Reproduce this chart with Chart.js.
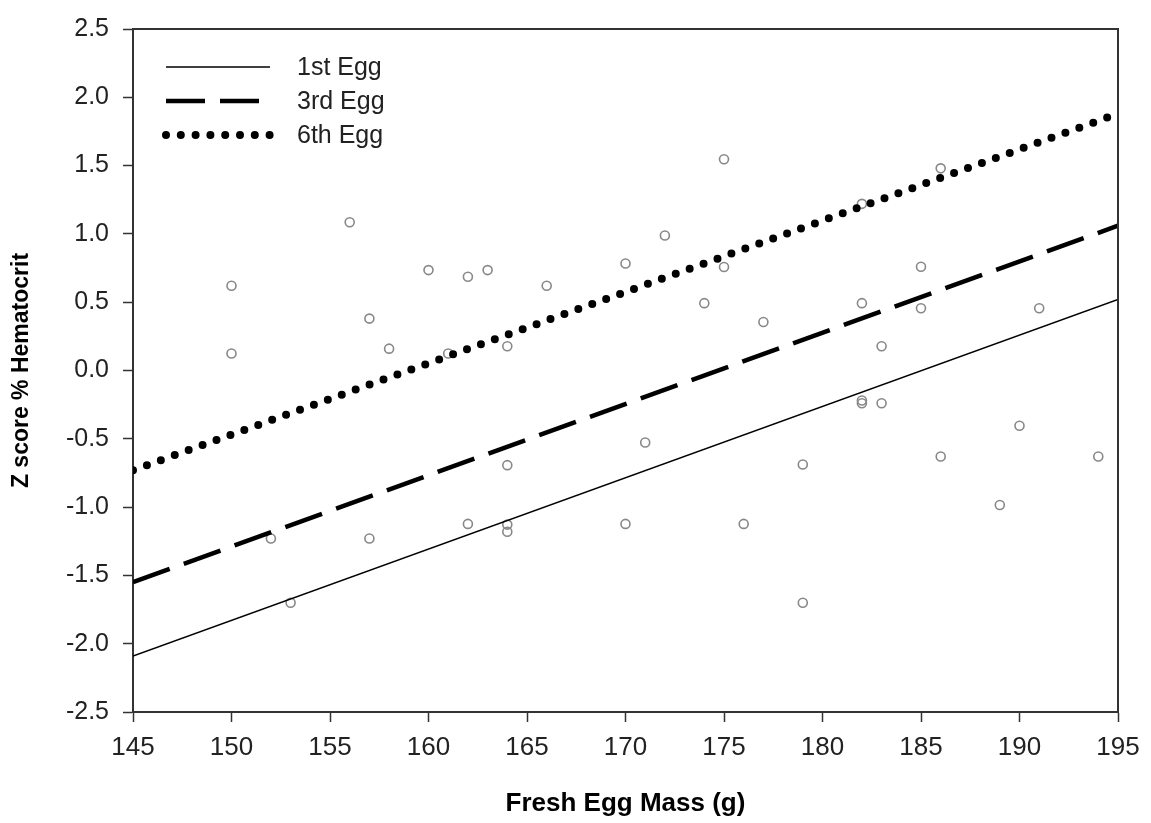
<!DOCTYPE html>
<html lang="en">
<head>
    <meta charset="UTF-8">
    <title>Hematocrit vs Fresh Egg Mass</title>
    <script src="https://cdn.jsdelivr.net/npm/chart.js@4.4.1/dist/chart.umd.min.js"></script>
    <style>
        body { margin: 0; background: #fff; }
        #chart { width: 1151px; height: 823px; }
    </style>
</head>
<body>
    <div id="chart">
        <canvas id="myChart" width="1151" height="823"></canvas>
    </div>
    <script>
        // individual eggs: fresh mass (g) and z score of % hematocrit
        const eggMass = [150, 150, 152, 153, 156, 157, 157, 158, 160, 161, 162, 162, 163, 164, 164, 164, 164,
                         166, 170, 170, 171, 172, 174, 175, 175, 176, 177, 179, 179, 182, 182, 182, 182,
                         183, 183, 185, 185, 186, 186, 189, 190, 191, 194];
        const zHct = [0.62, 0.125, -1.23, -1.70, 1.085, 0.38, -1.23, 0.16, 0.735, 0.125, 0.686, -1.123, 0.735, 0.178, -0.693, -1.128, -1.18,
                      0.62, 0.783, -1.123, -0.527, 0.988, 0.493, 1.547, 0.758, -1.123, 0.355, -0.688, -1.70, 1.22, 0.493, -0.22, -0.24,
                      0.178, -0.24, 0.76, 0.456, 1.48, -0.63, -0.985, -0.405, 0.456, -0.63];

        // fitted lines for each laying order, evaluated at the axis ends
        const fitMass = [145, 195];
        const firstEgg = [-2.09, 0.52];
        const thirdEgg = [-1.55, 1.06];
        const sixthEgg = [-0.73, 1.88];

        const xTicks = [145, 150, 155, 160, 165, 170, 175, 180, 185, 190, 195];
        const yTicks = [-2.5, -2.0, -1.5, -1.0, -0.5, 0.0, 0.5, 1.0, 1.5, 2.0, 2.5];

        const FONT = "'Liberation Sans', Arial, sans-serif";
        const INK = '#222';

        function pts(xs, ys) {
            return xs.map((x, i) => ({x: x, y: ys[i]}));
        }

        // closes the box on the top and right sides
        const frame = {
            id: 'frame',
            afterDraw(chart) {
                const {ctx, chartArea: a} = chart;
                ctx.save();
                ctx.strokeStyle = '#333';
                ctx.lineWidth = 2;
                ctx.beginPath();
                ctx.moveTo(a.left, a.top);
                ctx.lineTo(a.right, a.top);
                ctx.lineTo(a.right, a.bottom);
                ctx.stroke();
                ctx.restore();
            }
        };

        // legend sitting in the upper left of the plot, one row per line
        const lineLegend = {
            id: 'lineLegend',
            afterDraw(chart) {
                const ctx = chart.ctx;
                const rows = chart.data.datasets.filter(d => d.showLine);
                ctx.save();
                rows.forEach((d, i) => {
                    const y = 67 + i * 34;
                    ctx.strokeStyle = d.borderColor;
                    ctx.lineWidth = d.borderWidth;
                    ctx.lineCap = d.borderCapStyle || 'butt';
                    ctx.setLineDash(d.borderDash || []);
                    ctx.beginPath();
                    ctx.moveTo(166, y);
                    ctx.lineTo(270, y);
                    ctx.stroke();
                    ctx.setLineDash([]);
                    ctx.fillStyle = INK;
                    ctx.font = '25px ' + FONT;
                    ctx.textBaseline = 'middle';
                    ctx.fillText(d.label, 297, y + 1);
                });
                ctx.restore();
            }
        };

        const data = {
            datasets: [
                {
                    label: '1st Egg',
                    data: pts(fitMass, firstEgg),
                    showLine: true,
                    borderColor: '#000',
                    borderWidth: 1.5,
                    pointRadius: 0,
                    order: 1
                },
                {
                    label: '3rd Egg',
                    data: pts(fitMass, thirdEgg),
                    showLine: true,
                    borderColor: '#000',
                    borderWidth: 4.5,
                    borderDash: [39, 15],
                    pointRadius: 0,
                    order: 1
                },
                {
                    label: '6th Egg',
                    data: pts(fitMass, sixthEgg),
                    showLine: true,
                    borderColor: '#000',
                    borderWidth: 8,
                    borderDash: [0, 14.8],
                    borderCapStyle: 'round',
                    pointRadius: 0,
                    order: 1
                },
                {
                    label: 'Eggs',
                    data: pts(eggMass, zHct),
                    showLine: false,
                    pointRadius: 4.5,
                    pointBorderWidth: 1.6,
                    pointBorderColor: '#888',
                    pointBackgroundColor: 'rgba(0,0,0,0)',
                    order: 5
                }
            ]
        };

        const options = {
            responsive: false,
            animation: false,
            layout: { padding: { left: 0, right: 33, top: 23, bottom: 0 } },
            plugins: {
                legend: { display: false },
                tooltip: { enabled: false }
            },
            scales: {
                x: {
                    type: 'linear',
                    min: 145,
                    max: 195,
                    afterBuildTicks: s => { s.ticks = xTicks.map(v => ({value: v})); },
                    afterFit: s => { s.height = 111; },
                    grid: { drawOnChartArea: false, tickLength: 10, tickWidth: 1.5, tickColor: '#333' },
                    border: { width: 2, color: '#333' },
                    ticks: { color: INK, padding: 10, font: { family: FONT, size: 26 }, maxRotation: 0 },
                    title: {
                        display: true,
                        text: 'Fresh Egg Mass (g)',
                        color: '#000',
                        font: { family: FONT, size: 26, weight: 'bold' },
                        padding: { bottom: 4 }
                    }
                },
                y: {
                    type: 'linear',
                    min: -2.5,
                    max: 2.5,
                    afterBuildTicks: s => { s.ticks = yTicks.map(v => ({value: v})); },
                    afterFit: s => { s.width = 133; },
                    grid: { drawOnChartArea: false, tickLength: 10, tickWidth: 1.5, tickColor: '#333' },
                    border: { width: 2, color: '#333' },
                    ticks: {
                        color: INK,
                        padding: 14,
                        font: { family: FONT, size: 25 },
                        callback: v => v.toFixed(1)
                    },
                    title: {
                        display: true,
                        text: 'Z score % Hematocrit',
                        color: '#000',
                        font: { family: FONT, size: 23, weight: 'bold' },
                        padding: { top: 8 }
                    }
                }
            }
        };

        const ctx = document.getElementById('myChart').getContext('2d');
        const myChart = new Chart(ctx, {
            type: 'scatter',
            data: data,
            options: options,
            plugins: [frame, lineLegend]
        });
    </script>
</body>
</html>
